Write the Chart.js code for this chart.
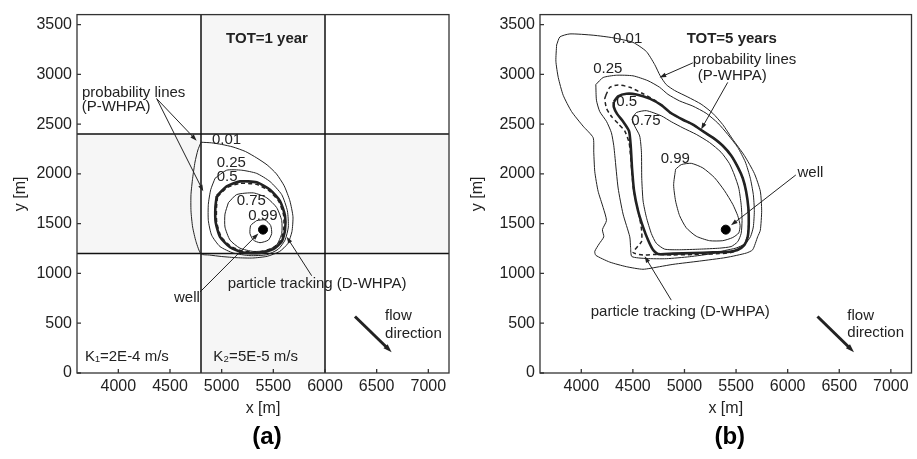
<!DOCTYPE html>
<html>
<head>
<meta charset="utf-8">
<script src="https://cdn.jsdelivr.net/npm/chart.js@4.4.1/dist/chart.umd.min.js"></script>
<style>
  body { margin: 0; background: #fff; }
  #wrap { position: relative; width: 917px; height: 459px; }
  .panel { position: absolute; top: 0; height: 459px; }
</style>
</head>
<body>
<div id="wrap">
  <div class="panel" style="left:0;width:459px"><canvas id="chartA"></canvas></div>
  <div class="panel" style="left:459px;width:458px"><canvas id="chartB"></canvas></div>
</div>
<script>
// axis ticks
const xTicks = [4000, 4500, 5000, 5500, 6000, 6500, 7000];
const yTicks = [0, 500, 1000, 1500, 2000, 2500, 3000, 3500];

// conductivity blocks of panel (a)
const blockX = [4800, 6000];
const blockY = [1200, 2400];

const well = [5400, 1440];

// ---- panel (a), TOT = 1 year ----
const a001 = [[4800,2318],[4900,2312],[5000,2296],[5110,2270],[5230,2225],[5340,2160],[5440,2090],[5530,2000],[5605,1880],[5660,1730],[5690,1570],[5680,1420],[5640,1300],[5560,1220],[5440,1172],[5300,1155],[5150,1158],[5000,1170],[4880,1185],[4800,1195],[4752,1319],[4719,1466],[4703,1629],[4703,1792],[4719,1956],[4742,2119],[4770,2240],[4800,2318]];
const a025 = [[4936,1956],[5048,2037],[5194,2037],[5339,2005],[5468,1923],[5581,1792],[5636,1629],[5645,1466],[5613,1335],[5548,1244],[5436,1188],[5274,1179],[5113,1205],[4984,1270],[4903,1384],[4871,1531],[4871,1694],[4894,1841],[4936,1956]];
const a050 = [[4952,1776],[5048,1874],[5177,1925],[5339,1915],[5468,1841],[5565,1727],[5613,1580],[5613,1433],[5581,1319],[5500,1244],[5371,1205],[5210,1211],[5081,1263],[4984,1368],[4942,1515],[4939,1662],[4952,1776]];
const aTrack = [[4960,1770],[5050,1860],[5180,1905],[5335,1895],[5460,1830],[5555,1720],[5600,1580],[5600,1440],[5570,1330],[5495,1255],[5370,1218],[5215,1222],[5090,1272],[4995,1370],[4952,1515],[4950,1660],[4960,1770]];
const a075 = [[5065,1711],[5145,1792],[5307,1809],[5436,1760],[5532,1662],[5581,1531],[5581,1401],[5532,1286],[5436,1231],[5307,1221],[5177,1254],[5081,1335],[5032,1466],[5032,1596],[5065,1711]];
const a099 = [[5339,1531],[5419,1538],[5474,1482],[5484,1401],[5452,1335],[5371,1309],[5307,1335],[5274,1401],[5281,1482],[5339,1531]];

// ---- panel (b), TOT = 5 years ----
const b001 = [[3761,3295],[3793,3376],[3890,3406],[4115,3393],[4308,3367],[4501,3321],[4630,3230],[4711,3099],[4765,2985],[4823,2897],[4904,2838],[5033,2772],[5161,2701],[5274,2609],[5371,2495],[5467,2348],[5580,2185],[5677,2005],[5735,1826],[5748,1630],[5735,1434],[5709,1368],[5661,1238],[5600,1205],[5403,1160],[5145,1124],[4888,1091],[4759,1068],[4598,1042],[4437,1068],[4276,1114],[4141,1182],[4131,1222],[4173,1297],[4218,1368],[4205,1440],[4244,1532],[4212,1662],[4163,1826],[4131,2022],[4121,2217],[4115,2364],[4018,2479],[3906,2626],[3825,2789],[3777,2968],[3754,3132],[3761,3295]];
const b025 = [[4141,2897],[4212,2968],[4340,2991],[4501,2985],[4646,2936],[4759,2870],[4840,2799],[4952,2733],[5081,2681],[5210,2609],[5323,2511],[5419,2397],[5516,2266],[5590,2119],[5638,1956],[5667,1793],[5677,1630],[5667,1466],[5640,1370],[5590,1300],[5500,1255],[5390,1230],[5275,1200],[5049,1168],[4824,1148],[4631,1150],[4490,1170],[4478,1260],[4470,1368],[4405,1596],[4357,1858],[4325,2184],[4315,2283],[4292,2413],[4244,2528],[4179,2626],[4147,2740],[4141,2897]];
const b050 = [[4315,2723],[4357,2779],[4438,2805],[4534,2798],[4663,2756],[4776,2691],[4872,2609],[4985,2544],[5082,2495],[5178,2429],[5275,2364],[5371,2283],[5452,2185],[5516,2070],[5565,1956],[5597,1826],[5619,1662],[5623,1499],[5613,1368],[5581,1287],[5516,1238],[5436,1218],[5275,1212],[5082,1205],[4888,1199],[4744,1195],[4695,1238],[4647,1336],[4599,1466],[4550,1630],[4512,1826],[4492,2054],[4479,2283],[4463,2430],[4405,2527],[4347,2603],[4315,2674],[4315,2723]];
const bTrack = [[4238,2789],[4277,2870],[4357,2893],[4470,2870],[4599,2805],[4711,2740],[4776,2691],[4872,2609],[4985,2544],[5082,2495],[5178,2429],[5275,2364],[5371,2283],[5452,2185],[5516,2070],[5565,1956],[5597,1826],[5619,1662],[5623,1499],[5610,1370],[5575,1280],[5505,1228],[5420,1205],[5275,1196],[5082,1190],[4888,1186],[4711,1190],[4599,1185],[4502,1211],[4583,1319],[4585,1430],[4565,1560],[4535,1700],[4505,1850],[4488,2054],[4476,2200],[4463,2315],[4422,2430],[4357,2505],[4293,2576],[4244,2658],[4228,2756],[4238,2789]];
const b075 = [[4492,2550],[4534,2616],[4631,2635],[4776,2583],[4872,2524],[4985,2462],[5114,2397],[5243,2315],[5355,2217],[5436,2103],[5484,1989],[5526,1858],[5549,1695],[5558,1532],[5549,1401],[5516,1319],[5452,1270],[5339,1254],[5146,1244],[4953,1238],[4808,1244],[4727,1303],[4679,1401],[4631,1564],[4599,1728],[4586,1956],[4583,2217],[4566,2381],[4518,2479],[4492,2550]];
const b099 = [[4914,2047],[4969,2093],[5066,2106],[5178,2060],[5291,1962],[5388,1831],[5468,1694],[5516,1580],[5539,1482],[5526,1407],[5468,1361],[5371,1329],[5243,1329],[5114,1374],[5017,1459],[4953,1580],[4914,1727],[4895,1890],[4914,2047]];

Chart.defaults.font.family = '"Liberation Sans", Arial, Helvetica, sans-serif';
Chart.defaults.color = '#222';

const INK = '#222';

function contour(pts, width, dash) {
  return {
    data: pts.map(([x, y]) => ({ x, y })),
    showLine: true,
    borderColor: INK,
    borderWidth: width,
    borderDash: dash || [],
    pointRadius: 0,
    tension: 0.2,
    fill: false
  };
}

function wellSet() {
  return {
    data: [{ x: well[0], y: well[1] }],
    showLine: false,
    pointRadius: 4.5,
    pointBackgroundColor: '#000',
    pointBorderColor: '#000'
  };
}

function arrow(ctx, x1, y1, x2, y2, w, head) {
  const ang = Math.atan2(y2 - y1, x2 - x1);
  ctx.lineWidth = w;
  ctx.beginPath();
  ctx.moveTo(x1, y1);
  ctx.lineTo(x2 - Math.cos(ang) * head * 0.7, y2 - Math.sin(ang) * head * 0.7);
  ctx.stroke();
  ctx.beginPath();
  ctx.moveTo(x2, y2);
  ctx.lineTo(x2 - head * Math.cos(ang - 0.33), y2 - head * Math.sin(ang - 0.33));
  ctx.lineTo(x2 - head * Math.cos(ang + 0.33), y2 - head * Math.sin(ang + 0.33));
  ctx.closePath();
  ctx.fill();
}

// shading, block lines, frame, inward ticks, labels and arrows
const notesPlugin = {
  id: 'notes',
  beforeDatasetsDraw(chart, args, opts) {
    const { ctx, chartArea: a, scales: { x, y } } = chart;
    if (!opts.blocks) return;
    ctx.save();
    const xs = [x.min, ...blockX, x.max];
    const ys = [y.min, ...blockY, y.max];
    ctx.fillStyle = '#f6f6f6';
    for (let i = 0; i < 3; i++) {
      for (let j = 0; j < 3; j++) {
        if ((i + j) % 2 === 1) {
          const l = x.getPixelForValue(xs[i]), r = x.getPixelForValue(xs[i + 1]);
          const t = y.getPixelForValue(ys[j + 1]), b = y.getPixelForValue(ys[j]);
          ctx.fillRect(l, t, r - l, b - t);
        }
      }
    }
    ctx.strokeStyle = '#111';
    ctx.lineWidth = 1.5;
    ctx.beginPath();
    blockX.forEach(v => {
      const p = x.getPixelForValue(v);
      ctx.moveTo(p, a.top); ctx.lineTo(p, a.bottom);
    });
    blockY.forEach(v => {
      const p = y.getPixelForValue(v);
      ctx.moveTo(a.left, p); ctx.lineTo(a.right, p);
    });
    ctx.stroke();
    ctx.restore();
  },
  afterDatasetsDraw(chart, args, opts) {
    const { ctx, chartArea: a, scales: { x, y } } = chart;
    ctx.save();
    // frame
    ctx.strokeStyle = '#333';
    ctx.lineWidth = 1.3;
    ctx.strokeRect(a.left, a.top, a.right - a.left, a.bottom - a.top);
    // inward ticks
    ctx.beginPath();
    xTicks.forEach(v => {
      const p = x.getPixelForValue(v);
      ctx.moveTo(p, a.bottom); ctx.lineTo(p, a.bottom - 4);
    });
    yTicks.forEach(v => {
      const p = y.getPixelForValue(v);
      ctx.moveTo(a.left, p); ctx.lineTo(a.left + 4, p);
    });
    ctx.stroke();

    // text
    ctx.fillStyle = INK;
    ctx.textBaseline = 'middle';
    opts.texts.forEach(t => {
      ctx.font = (t.bold ? 'bold ' : '') + '15px "Liberation Sans", Arial, sans-serif';
      ctx.textAlign = t.center ? 'center' : 'left';
      ctx.fillText(t.t, x.getPixelForValue(t.x), y.getPixelForValue(t.y));
    });

    // arrows
    ctx.strokeStyle = INK;
    opts.arrows.forEach(r => {
      arrow(ctx, x.getPixelForValue(r[0]), y.getPixelForValue(r[1]),
        x.getPixelForValue(r[2]), y.getPixelForValue(r[3]), r[4] || 1, r[4] ? 9 : 7);
    });

    // panel label
    ctx.font = 'bold 24px "Liberation Sans", Arial, sans-serif';
    ctx.textAlign = 'center';
    ctx.fillStyle = '#000';
    ctx.fillText(opts.label, (a.left + a.right) / 2 + 4, 437);
    ctx.restore();
  }
};

function scales(yWidth, yTitlePad) {
  return {
    x: {
      type: 'linear', min: 3600, max: 7200,
      afterBuildTicks: s => { s.ticks = xTicks.map(v => ({ value: v })); },
      afterFit: s => { s.height = 86; },
      grid: { display: false, drawTicks: false },
      border: { display: false },
      ticks: { color: INK, font: { size: 16 }, padding: 4, maxRotation: 0, autoSkip: false, callback: v => String(v) },
      title: { display: true, text: 'x [m]', color: INK, font: { size: 16 }, padding: { top: 0, bottom: 41 } }
    },
    y: {
      type: 'linear', min: 0, max: 3600,
      afterBuildTicks: s => { s.ticks = yTicks.map(v => ({ value: v })); },
      afterFit: s => { s.width = yWidth; },
      grid: { display: false, drawTicks: false },
      border: { display: false },
      ticks: { color: INK, font: { size: 16 }, padding: 5, autoSkip: false, callback: v => String(v) },
      title: { display: true, text: 'y [m]', color: INK, font: { size: 16 }, padding: { top: yTitlePad, bottom: 0 } }
    }
  };
}

function baseOptions(padRight, yWidth, yTitlePad, notes) {
  return {
    responsive: true,
    maintainAspectRatio: false,
    animation: false,
    events: [],
    layout: { padding: { left: 0, right: padRight, top: 5, bottom: 0 } },
    scales: scales(yWidth, yTitlePad),
    plugins: { legend: { display: false }, tooltip: { enabled: false }, notes }
  };
}

new Chart(document.getElementById('chartA'), {
  type: 'scatter',
  data: {
    datasets: [
      contour(a001, 1), contour(a025, 1), contour(a050, 2.6), contour(aTrack, 1.5, [4, 3]),
      contour(a075, 1), contour(a099, 1), wellSet()
    ]
  },
  options: baseOptions(10, 77, 11, {
    blocks: true,
    label: '(a)',
    texts: [
      { x: 5439, y: 3360, t: 'TOT=1 year', bold: true, center: true },
      { x: 3648, y: 2811, t: 'probability lines' },
      { x: 3645, y: 2674, t: '(P-WHPA)' },
      { x: 4906, y: 2345, t: '0.01' },
      { x: 4952, y: 2106, t: '0.25' },
      { x: 4952, y: 1972, t: '0.5' },
      { x: 5145, y: 1727, t: '0.75' },
      { x: 5258, y: 1580, t: '0.99' },
      { x: 4539, y: 757, t: 'well' },
      { x: 5058, y: 894, t: 'particle tracking (D-WHPA)' },
      { x: 6581, y: 578, t: 'flow' },
      { x: 6581, y: 394, t: 'direction' },
      { x: 3677, y: 167, t: 'K\u2081=2E-4 m/s' },
      { x: 4919, y: 167, t: 'K\u2082=5E-5 m/s' }
    ],
    arrows: [
      [4371, 2756, 4758, 2334],
      [4371, 2756, 4822, 1825],
      [4790, 813, 5355, 1401],
      [5871, 977, 5629, 1368],
      [6290, 568, 6645, 209, 3]
    ]
  }),
  plugins: [notesPlugin]
});

new Chart(document.getElementById('chartB'), {
  type: 'scatter',
  data: {
    datasets: [
      contour(b001, 1), contour(b025, 1), contour(b050, 2.6), contour(bTrack, 1.5, [4, 3]),
      contour(b075, 1), contour(b099, 1), wellSet()
    ]
  },
  options: baseOptions(4, 81, 9.4, {
    blocks: false,
    label: '(b)',
    texts: [
      { x: 5458, y: 3360, t: 'TOT=5 years', bold: true, center: true },
      { x: 4308, y: 3360, t: '0.01' },
      { x: 5081, y: 3141, t: 'probability lines' },
      { x: 5129, y: 2985, t: '(P-WHPA)' },
      { x: 4115, y: 3050, t: '0.25' },
      { x: 4340, y: 2723, t: '0.5' },
      { x: 4485, y: 2528, t: '0.75' },
      { x: 4769, y: 2152, t: '0.99' },
      { x: 6095, y: 2015, t: 'well' },
      { x: 4092, y: 617, t: 'particle tracking (D-WHPA)' },
      { x: 6578, y: 578, t: 'flow' },
      { x: 6578, y: 399, t: 'direction' }
    ],
    arrows: [
      [5081, 3115, 4759, 2968],
      [5419, 2919, 5161, 2446],
      [6079, 1989, 5451, 1483],
      [4872, 732, 4614, 1173],
      [6289, 568, 6643, 209, 3]
    ]
  }),
  plugins: [notesPlugin]
});
</script>
</body>
</html>
